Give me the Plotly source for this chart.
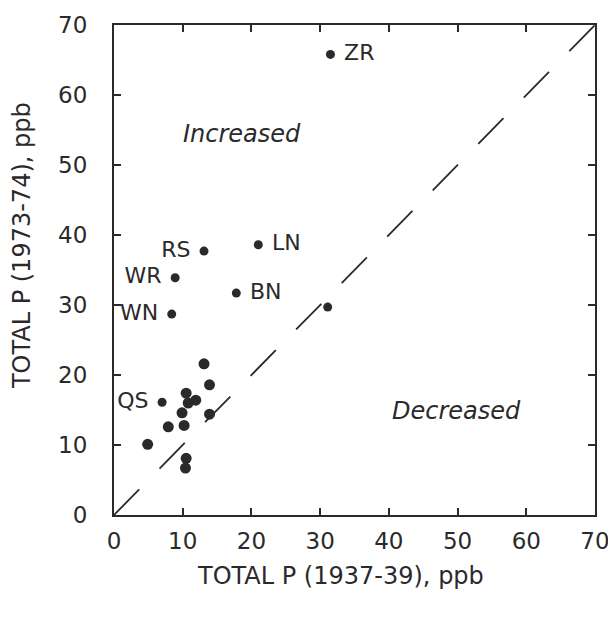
import plotly.graph_objects as go

# stations (ppb)
labels = ['ZR', 'LN', 'RS', 'WR', 'BN', 'WN', '', 'QS']
x_old = [31.5, 21.0, 13.1, 8.9, 17.8, 8.4, 31.1, 7.0]
y_new = [65.8, 38.6, 37.7, 33.9, 31.7, 28.7, 29.7, 16.1]
label_pos = ['middle right', 'middle right', 'middle left', 'middle left',
             'middle right', 'middle left', 'middle right', 'middle left']

# unlabelled cluster
cx = [13.1, 13.9, 10.5, 11.9, 10.8, 9.9, 13.9, 7.9, 10.2, 4.9, 10.5, 10.4]
cy = [21.6, 18.6, 17.4, 16.4, 16.0, 14.6, 14.4, 12.6, 12.8, 10.1, 8.1, 6.7]

ticks = [0, 10, 20, 30, 40, 50, 60, 70]
ink = '#2a2a2a'
font = 'DejaVu Sans'

fig = go.Figure()

# 1:1 line
fig.add_trace(go.Scatter(
    x=[0, 70], y=[0, 70], mode='lines',
    line=dict(color=ink, width=1.8, dash='36px,29px'),
    hoverinfo='skip', showlegend=False,
))

fig.add_trace(go.Scatter(
    x=cx, y=cy, mode='markers',
    marker=dict(size=11, color=ink),
    showlegend=False,
))

fig.add_trace(go.Scatter(
    x=x_old, y=y_new, mode='markers+text',
    text=[t + ' ' if p == 'middle left' else ' ' + t for t, p in zip(labels, label_pos)],
    textposition=label_pos,
    textfont=dict(family=font, size=22, color=ink),
    marker=dict(size=9, color=ink),
    showlegend=False,
))

fig.add_annotation(x=18.6, y=54.5, text='<i>Increased</i>', showarrow=False,
                   font=dict(family=font, size=24, color=ink))
fig.add_annotation(x=49.9, y=14.8, text='<i>Decreased</i>', showarrow=False,
                   font=dict(family=font, size=24, color=ink))

# axis titles
fig.add_annotation(xref='paper', yref='paper', x=0.47, y=-0.125,
                   xanchor='center', yanchor='middle',
                   text='TOTAL P (1937-39), ppb', showarrow=False,
                   font=dict(family=font, size=24, color=ink))
fig.add_annotation(xref='paper', yref='paper', x=-0.19, y=0.55, textangle=-90,
                   xanchor='center', yanchor='middle',
                   text='TOTAL P (1973-74), ppb', showarrow=False,
                   font=dict(family=font, size=24, color=ink))

axis = dict(
    range=[0, 70], tickvals=ticks, ticktext=[str(t) for t in ticks],
    showgrid=False, zeroline=False, automargin=False,
    showline=True, linecolor=ink, linewidth=2.2, mirror='allticks',
    ticks='inside', ticklen=7, tickwidth=1.6, tickcolor=ink,
    tickfont=dict(family=font, size=23, color=ink),
)

fig.update_xaxes(**axis, ticklabelstandoff=4)
fig.update_yaxes(**axis, ticklabelstandoff=20)

fig.update_layout(
    width=616, height=620,
    margin=dict(l=106, r=29, t=17, b=113),
    paper_bgcolor='white', plot_bgcolor='white',
)

fig.write_html('out.html')
